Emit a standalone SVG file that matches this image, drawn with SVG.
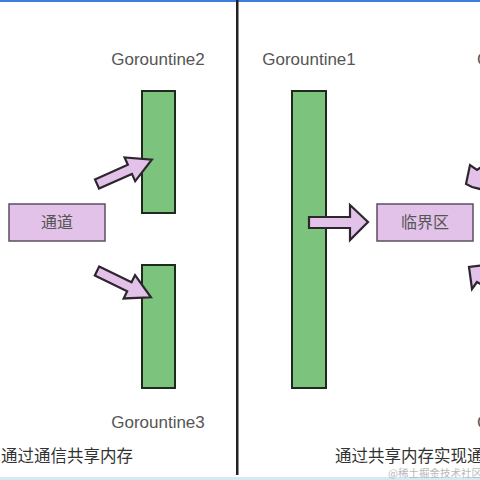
<svg xmlns="http://www.w3.org/2000/svg" width="480" height="480" viewBox="0 0 480 480">
<style>
.bg{fill:#ffffff}
.g{fill:#7cc47e;stroke:#1e2a1e;stroke-width:2}
.box{fill:#e2c2e9;stroke:#5e4e60;stroke-width:1.5}
.arr{fill:#e2c2e9;stroke:#2e262f;stroke-width:2.2;stroke-linejoin:miter}
.lbl{font-family:"Liberation Sans","Open Sans",sans-serif;font-size:17px;fill:#555555}
.cn{font-family:"Noto Sans CJK SC",sans-serif;font-size:16px;fill:#555555}
.cap{font-family:"Noto Sans CJK SC",sans-serif;font-size:16.5px;fill:#333333}
.wm{font-family:"Noto Sans CJK SC",sans-serif;font-size:10.5px;fill:#b8b8b8}
</style>
<defs>
<polygon id="arrow" points="0,-5 36,-5 36,-13 60,0 36,13 36,5 0,5"/>
</defs>
<rect class="bg" x="0" y="0" width="480" height="480"/>
<rect x="0" y="0" width="480" height="2" fill="#3b7fe0"/>
<rect x="0" y="477" width="480" height="3" fill="#d2eaf1"/>
<rect x="236" y="0" width="2.5" height="475" fill="#222222"/>

<g id="goroutine2">
<text class="lbl" x="158" y="65" text-anchor="middle">Gorountine2</text>
<rect class="g" x="142" y="91" width="33" height="122"/>
</g>
<g id="goroutine3">
<rect class="g" x="142" y="265" width="33" height="123"/>
<text class="lbl" x="158" y="428" text-anchor="middle">Gorountine3</text>
</g>
<g id="channel">
<rect class="box" x="9" y="204" width="96" height="37"/>
<text class="cn" x="57" y="228" text-anchor="middle">通道</text>
</g>
<g id="goroutine1">
<text class="lbl" x="309" y="65" text-anchor="middle">Gorountine1</text>
<rect class="g" x="292" y="91" width="34" height="297"/>
</g>
<g id="critical">
<rect class="box" x="377" y="204" width="96" height="37"/>
<text class="cn" x="425" y="228" text-anchor="middle">临界区</text>
</g>
<g id="offscreen-labels">
<text class="lbl" x="477" y="65">Gorountine2</text>
<text class="lbl" x="477" y="428">Gorountine3</text>
</g>

<g id="connectors">
<use href="#arrow" class="arr" transform="translate(97,184) rotate(-24)"/>
<use href="#arrow" class="arr" transform="translate(97,271) rotate(26)"/>
<polygon class="arr" points="309,217 350,217 350,205 368,222 350,240 350,228 309,228"/>
<polygon class="arr" points="466,184 470,165 477,170 484,165 484,190 472,187"/>
<polygon class="arr" points="469,267 472,289 477,282 484,286 484,265"/>
</g>

<text class="cap" x="1" y="462">通过通信共享内存</text>
<text class="cap" x="335" y="462">通过共享内存实现通信</text>
<text class="wm" x="388" y="477">@稀土掘金技术社区</text>
</svg>
